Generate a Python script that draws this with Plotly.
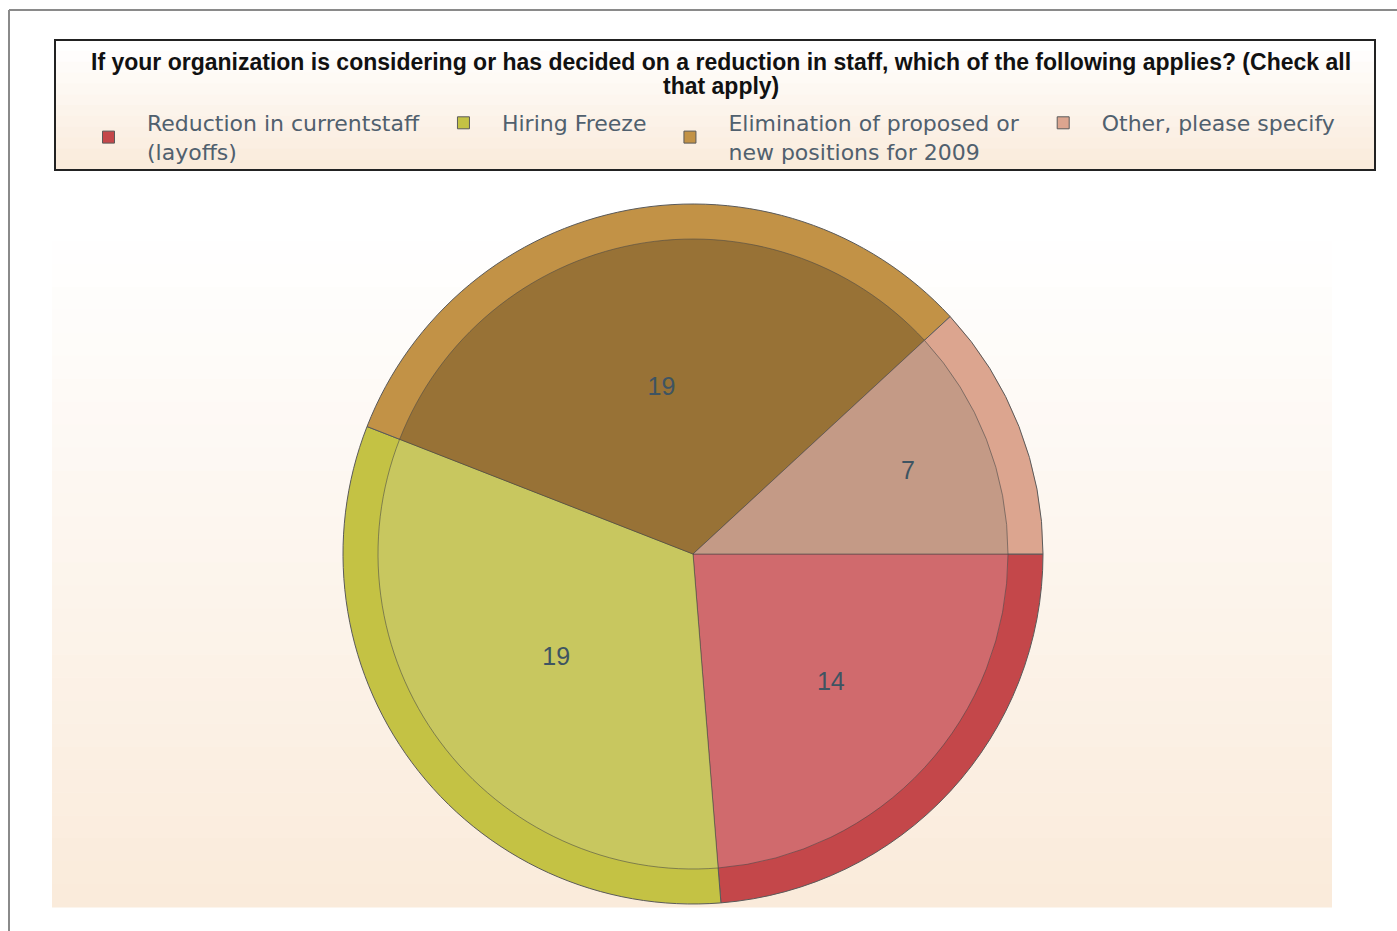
import plotly.graph_objects as go

# survey answers
categories = ["Reduction in currentstaff<br>(layoffs)", "Hiring Freeze",
              "Elimination of proposed or<br>new positions for 2009", "Other, please specify"]
counts = [14, 19, 19, 7]
title_lines = ["If your organization is considering or has decided on a reduction in staff, "
               "which of the following applies? (Check all", "that apply)"]

rim_colors = ["#C4474A", "#C4C244", "#C29246", "#DCA58F"]
face_colors = ["#D06A6D", "#C8C75F", "#987236", "#C49A86"]

W, H = 1397, 931


def px_x(v):
    return v / W


def px_y(v):
    return 1 - v / H


def gradient(x0, x1, y0, y1, top, bottom, n=30):
    # vertical colour gradient made of thin bands
    out = []
    step = (y1 - y0) / n
    for i in range(n):
        t = i / (n - 1)
        c = tuple(round(top[k] + (bottom[k] - top[k]) * t) for k in range(3))
        out.append(dict(type="rect", xref="paper", yref="paper", layer="below",
                        x0=px_x(x0), x1=px_x(x1),
                        y0=px_y(y0 + step * (i + 1) + 0.5), y1=px_y(y0 + step * i),
                        fillcolor="rgb(%d,%d,%d)" % c, line=dict(width=0)))
    return out


cx, cy = 693, 554
r_out, r_in = 350, 315

fig = go.Figure()
fig.add_trace(go.Pie(
    labels=categories, values=counts, sort=False, direction="clockwise", rotation=90,
    marker=dict(colors=rim_colors, line=dict(color="#5A5A5A", width=1)),
    textinfo="none", hoverinfo="label+value",
    domain=dict(x=[px_x(cx - r_out), px_x(cx + r_out)], y=[px_y(cy + r_out), px_y(cy - r_out)]),
))
fig.add_trace(go.Pie(
    labels=categories, values=counts, sort=False, direction="clockwise", rotation=90,
    marker=dict(colors=face_colors, line=dict(color="rgba(70,70,70,0.7)", width=0.8)),
    textinfo="value", textposition="inside", insidetextorientation="horizontal",
    textfont=dict(family="Arial", size=25, color="#3E5462"),
    showlegend=False, hoverinfo="label+value",
    domain=dict(x=[px_x(cx - r_in), px_x(cx + r_in)], y=[px_y(cy + r_in), px_y(cy - r_in)]),
))

shapes = []
shapes += gradient(52, 1332, 218, 907, (255, 255, 255), (250, 235, 219))
shapes += gradient(55, 1375, 40, 170, (255, 255, 255), (250, 235, 219), n=12)
shapes.append(dict(type="rect", xref="paper", yref="paper", x0=px_x(55), x1=px_x(1375),
                   y0=px_y(170), y1=px_y(40), line=dict(color="#222222", width=2)))
shapes.append(dict(type="line", xref="paper", yref="paper", x0=px_x(9), x1=px_x(9),
                   y0=0, y1=px_y(10), line=dict(color="#8A8A8A", width=2)))
shapes.append(dict(type="line", xref="paper", yref="paper", x0=px_x(9), x1=1,
                   y0=px_y(10), y1=px_y(10), line=dict(color="#8A8A8A", width=2)))

title_font = dict(family="Liberation Sans, Arial", size=23, color="#111111")
annotations = [
    dict(text="<b>" + title_lines[0] + "</b>", xref="paper", yref="paper",
         x=px_x(721), y=px_y(62), xanchor="center", yanchor="middle",
         showarrow=False, font=title_font),
    dict(text="<b>" + title_lines[1] + "</b>", xref="paper", yref="paper",
         x=px_x(721), y=px_y(86), xanchor="center", yanchor="middle",
         showarrow=False, font=title_font),
]

fig.update_layout(
    width=W, height=H, margin=dict(l=0, r=0, t=0, b=0),
    paper_bgcolor="white", plot_bgcolor="white",
    shapes=shapes, annotations=annotations,
    legend=dict(orientation="h", x=px_x(70), y=px_y(102), xanchor="left", yanchor="top",
                bgcolor="rgba(0,0,0,0)", itemwidth=67, traceorder="normal",
                font=dict(family="DejaVu Sans", size=22, color="#50606E")),
)

fig.write_html("out.html", config={"displayModeBar": False},
               post_script="document.body.style.margin='0';")
